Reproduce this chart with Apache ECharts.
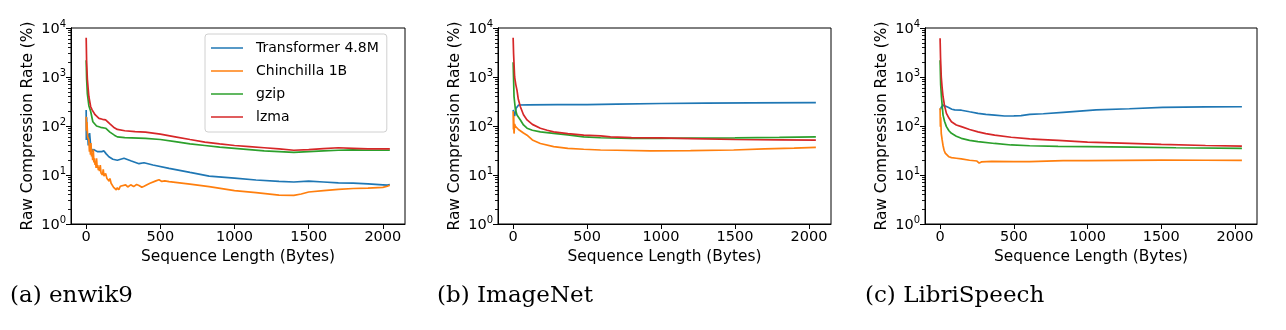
<!DOCTYPE html>
<html>
<head>
<meta charset="utf-8">
<script src="https://cdn.jsdelivr.net/npm/echarts@6/dist/echarts.min.js"></script>
<style>
  html, body { margin: 0; padding: 0; background: #fff; }
  #chart { width: 1286px; height: 330px; }
</style>
</head>
<body>
<div id="chart"></div>
<script>
// tick positions
const xTicks = [0, 500, 1000, 1500, 2000];
const yMinor = [2, 3, 4, 5, 6, 7, 8, 9, 20, 30, 40, 50, 60, 70, 80, 90,
  200, 300, 400, 500, 600, 700, 800, 900, 2000, 3000, 4000, 5000, 6000, 7000, 8000, 9000];
const seriesNames = ["Transformer 4.8M", "Chinchilla 1B", "gzip", "lzma"];
const captions = ["(a) enwik9", "(b) ImageNet", "(c) LibriSpeech"];

// (a) enwik9  [bytes, rate %]
const enwikTransformer = [[0,213],[1,52],[3,150],[6,55],[10,70],[14,40],[23,72],[30,40],[40,30],[50,33],[63,34],[75,30],[86,28],[105,30],[120,31],[135,27],[153,23.6],[180,21],[210,20],[255,22],[300,19.5],[356,17],[390,17.8],[450,16],[559,13.7],[700,11.3],[829,9.5],[1000,8.6],[1145,7.9],[1300,7.4],[1400,7.2],[1500,7.5],[1600,7.2],[1700,6.9],[1800,6.8],[1900,6.6],[2000,6.3],[2030,6.2],[2047,6.4]];
const enwikChinchilla = [[0,155],[2,80],[5,120],[10,60],[18,52],[22,30],[25,40],[29,26],[32,45],[36,24],[40,28],[44,20],[48,33],[52,18],[55,22],[60,16],[63,18.7],[67,14],[70,22],[74,14],[78,16],[82,12.5],[86,14.7],[90,12],[95,16],[100,11],[105,12],[110,10],[115,13],[120,9.5],[131,10.8],[140,8.5],[150,9],[155,7.5],[160,8.5],[168,6.8],[176,7.2],[185,5.6],[195,6],[203,5],[210,5.5],[220,5],[230,5.9],[240,5.4],[266,6.3],[280,5.7],[300,6.3],[320,5.8],[340,6.4],[356,6.1],[375,5.6],[390,5.9],[430,6.8],[470,7.6],[491,8],[510,7.4],[530,7.6],[559,7.3],[700,6.5],[829,5.8],[1000,4.8],[1145,4.36],[1300,3.9],[1400,3.85],[1450,4.1],[1500,4.5],[1600,4.8],[1700,5.1],[1800,5.3],[1900,5.4],[2000,5.6],[2030,5.9],[2047,6.2]];
const enwikGzip = [[0,2200],[3,900],[8,450],[18,260],[30,200],[45,122],[70,100],[97,94],[131,90],[160,75],[190,65],[210,60],[260,58],[400,56],[500,53],[600,48],[700,43],[800,40],[900,37],[1000,35],[1100,33],[1200,31],[1300,30],[1400,29],[1500,30],[1600,31],[1700,32],[1800,32.5],[1900,32],[2047,32]];
const enwikLzma = [[0,6300],[3,2000],[8,900],[18,400],[30,250],[40,213],[60,170],[86,143],[110,137],[131,133],[160,110],[190,92],[210,85],[260,80],[330,77],[400,75],[500,68],[600,60],[700,53],[800,47],[900,43],[1000,40],[1100,38],[1200,36],[1300,34],[1400,32],[1500,33],[1600,34.5],[1700,36],[1800,35],[1900,34],[2047,34]];

// (b) ImageNet
const imagenetTransformer = [[0,213],[10,160],[20,230],[37,268],[100,270],[300,272],[500,274],[700,280],[1000,288],[1300,293],[1600,297],[2047,300]];
const imagenetChinchilla = [[0,200],[2,85],[4,160],[6,70],[10,110],[14,100],[20,92],[26,97],[36,85],[49,83],[70,72],[94,65],[130,52],[184,44],[274,38],[370,35],[477,33.5],[591,32.4],[700,32],[929,31],[1200,31.5],[1491,32.4],[1700,34],[1900,35.5],[2047,36.7]];
const imagenetGzip = [[0,2000],[3,900],[6,400],[15,220],[26,167],[49,133],[70,105],[94,90],[130,82],[184,76],[274,71],[370,66],[477,60],[591,57.6],[800,56],[1000,56],[1200,56.5],[1500,57],[1800,58.5],[2047,60]];
const imagenetLzma = [[0,6300],[3,3000],[10,1000],[18,700],[26,540],[35,350],[49,247],[70,170],[94,133],[130,108],[184,90],[230,82],[274,76],[370,70],[477,65],[591,63],[658,60],[800,58],[1000,57],[1200,55.5],[1500,53],[1800,52],[2047,51.5]];

// (c) LibriSpeech
const libriTransformer = [[0,213],[8,240],[20,268],[35,255],[54,241],[80,220],[99,213],[144,210],[200,195],[257,181],[310,172],[370,167],[437,160],[500,161],[549,163],[608,172],[700,178],[834,190],[1059,213],[1284,225],[1509,240],[1800,246],[2047,247]];
const libriChinchilla = [[0,230],[2,97],[4,150],[8,70],[14,52],[20,40],[27,32],[35,28],[43,25.6],[60,23.5],[77,22.6],[110,22],[144,21.3],[200,20],[250,19.3],[265,17.5],[280,18.5],[350,19],[500,18.7],[608,18.7],[834,19.6],[1000,19.6],[1500,20.2],[1800,20],[2047,19.8]];
const libriGzip = [[0,2200],[4,700],[9,400],[20,167],[30,125],[43,97],[60,80],[77,71],[110,62],[144,56],[200,51],[257,48],[370,44],[482,41],[608,39.5],[800,38.5],[1000,38],[1300,37],[1600,36],[2047,35]];
const libriLzma = [[0,6200],[3,2500],[8,1000],[14,600],[20,400],[30,260],[43,181],[60,145],[77,122],[110,105],[144,97],[200,85],[257,76],[310,70],[370,65],[482,59],[608,54.5],[662,53.5],[800,51],[1000,47],[1284,44.3],[1500,42],[1800,40],[2047,39]];

const panels = [
  [enwikTransformer, enwikChinchilla, enwikGzip, enwikLzma],
  [imagenetTransformer, imagenetChinchilla, imagenetGzip, imagenetLzma],
  [libriTransformer, libriChinchilla, libriGzip, libriLzma],
];
const colors = ["#1f77b4", "#ff7f0e", "#2ca02c", "#d62728"];
const gridLefts = [71, 498, 925];
const gridWidths = [334, 333, 332];
const captionLefts = [10, 437, 865];
const font = "DejaVu Sans";

const chart = echarts.init(document.getElementById("chart"), null, { renderer: "canvas" });

let grid = [], xAxis = [], yAxis = [], series = [], graphic = [];
panels.forEach((lines, i) => {
  grid.push({
    left: gridLefts[i], top: 28, width: gridWidths[i], height: 196,
    show: true, borderColor: "#000", borderWidth: 1, backgroundColor: "transparent",
  });
  xAxis.push({
    type: "value", gridIndex: i, min: -102.35, max: 2149.35,
    name: "Sequence Length (Bytes)", nameLocation: "middle", nameGap: 24,
    nameTextStyle: { fontFamily: font, fontSize: 15.4, color: "#000" },
    axisLine: { show: true, onZero: false, lineStyle: { color: "#000", width: 1 } },
    axisTick: { show: true, length: 5, customValues: xTicks, lineStyle: { color: "#000" } },
    axisLabel: {
      customValues: xTicks, fontFamily: font, fontSize: 14.5, color: "#000", margin: 6,
      formatter: (v) => String(v),
    },
    splitLine: { show: false },
  });
  yAxis.push({
    type: "log", gridIndex: i, position: "left", min: 1, max: 10000, logBase: 10,
    name: "Raw Compression Rate (%)", nameLocation: "middle", nameGap: 36,
    nameTextStyle: { fontFamily: font, fontSize: 15.4, color: "#000" },
    axisLine: { show: true, onZero: false, lineStyle: { color: "#000", width: 1 } },
    axisTick: { show: true, length: 5, lineStyle: { color: "#000" } },
    axisLabel: {
      fontFamily: font, color: "#000", margin: 5,
      formatter: (v) => "{b|10}{s|" + Math.round(Math.log10(v)) + "}",
      rich: {
        b: { fontFamily: font, fontSize: 14.5, color: "#000", verticalAlign: "bottom", lineHeight: 17 },
        s: { fontFamily: font, fontSize: 10, color: "#000", verticalAlign: "top", lineHeight: 17 },
      },
    },
    splitLine: { show: false },
  });
  // minor ticks at 2..9 of every decade, on a hidden decade (exponent) axis
  yAxis.push({
    type: "value", gridIndex: i, position: "left", min: 0, max: 4,
    axisLine: { show: true, onZero: false, lineStyle: { color: "#000", width: 1 } },
    axisTick: { show: true, length: 3, customValues: yMinor.map(Math.log10), lineStyle: { color: "#000", width: 0.9 } },
    axisLabel: { show: false },
    splitLine: { show: false },
  });
  lines.forEach((d, k) => {
    series.push({
      name: seriesNames[k], type: "line", xAxisIndex: i, yAxisIndex: i * 2,
      data: d, symbol: "none", smooth: false,
      lineStyle: { color: colors[k], width: 1.7 },
      itemStyle: { color: colors[k] },
      z: 2 + k,
    });
  });
  graphic.push({
    type: "text", left: captionLefts[i], top: 285,
    style: { text: captions[i], fontFamily: "DejaVu Serif", fontSize: 23, fill: "#000" },
  });
});

chart.setOption({
  animation: false,
  backgroundColor: "#fff",
  grid, xAxis, yAxis, series, graphic,
  legend: {
    left: 205, top: 34, orient: "vertical",
    data: seriesNames,
    icon: "rect", itemWidth: 32, itemHeight: 1.5, itemGap: 9,
    padding: [7, 8, 8, 6],
    borderColor: "#d0d0d0", borderWidth: 1, borderRadius: 3,
    backgroundColor: "rgba(255,255,255,0.8)",
    textStyle: { fontFamily: font, fontSize: 14, color: "#000", padding: [0, 0, 0, 8] },
  },
});
</script>
</body>
</html>
